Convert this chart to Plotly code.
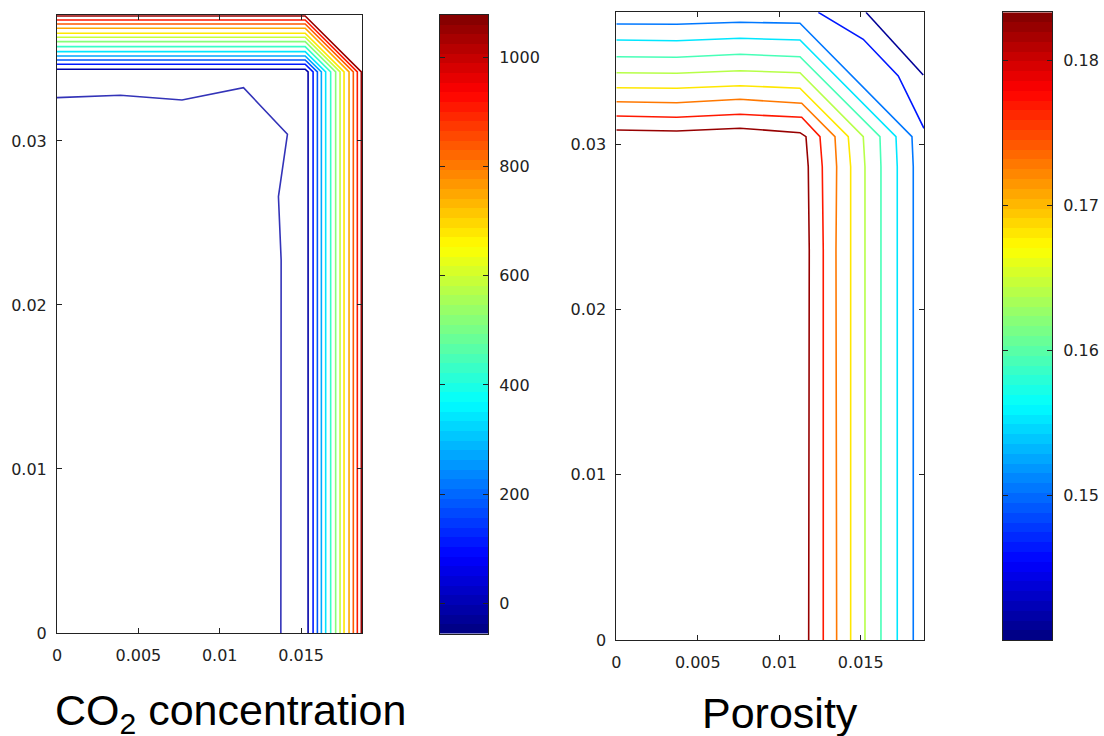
import plotly.graph_objects as go

# ---------------- data ----------------
# shared tick marks of the two domain plots
x_ticks = [0, 0.005, 0.01, 0.015]
x_ticklabels = ["0", "0.005", "0.01", "0.015"]
y_ticks = [0, 0.01, 0.02, 0.03]
y_ticklabels = ["0", "0.01", "0.02", "0.03"]

# CO2 concentration plot
co2_xmax = 0.01876
co2_ymax = 0.03768
co2_cmin = -55
co2_cmax = 1077
co2_ticks = [0, 200, 400, 600, 800, 1000]
co2_levels = [-10, 106, 187, 268, 349, 430, 511, 592, 673, 754, 835, 916, 1050]
# height of the horizontal (top) part of each contour
co2_front_y = [0.034372, 0.034677, 0.034939, 0.035183, 0.035445, 0.035750, 0.036055,
               0.036323, 0.036567, 0.036872, 0.037134, 0.037378, 0.037622]
# position of the vertical (right) part of each contour
co2_front_x = [0.015429, 0.015736, 0.016000, 0.016245, 0.016509, 0.016816, 0.017123,
               0.017393, 0.017638, 0.017945, 0.018209, 0.018454, 0.018699]
co2_corner_x = 0.01525   # where the top contours start to bend
co2_corner_y = 0.03421   # where the right contours become vertical
co2_inner_level = -10
co2_inner_x = [0, 0.003896, 0.007681, 0.011460, 0.014160, 0.013607, 0.013773, 0.013755]
co2_inner_y = [0.032640, 0.032787, 0.032500, 0.033250, 0.030409, 0.026604, 0.022744, 0.0]

# Porosity plot
por_xmax = 0.01888
por_ymax = 0.03799
por_cmin = 0.1400
por_cmax = 0.1833
por_ticks = [0.15, 0.16, 0.17, 0.18]
por_levels = [0.1412, 0.1465, 0.1508, 0.1552, 0.1595, 0.1638, 0.1682, 0.1725, 0.1768, 0.1822]
por_lines_x = [
    [0.015319, 0.018834],
    [0.012393, 0.015153, 0.017301, 0.018877],
    [0, 0.003706, 0.007589, 0.011270, 0.018141, 0.018221, 0.018221, 0.018221],
    [0, 0.003706, 0.007589, 0.011270, 0.017160, 0.017239, 0.017239, 0.017239],
    [0, 0.003706, 0.007589, 0.011270, 0.016178, 0.016239, 0.016239, 0.016239],
    [0, 0.003706, 0.007589, 0.011270, 0.015153, 0.015258, 0.015258, 0.015258],
    [0, 0.003706, 0.007589, 0.011270, 0.014233, 0.014380, 0.014380, 0.014380],
    [0, 0.003706, 0.007589, 0.011374, 0.013417, 0.013521, 0.013479, 0.013521],
    [0, 0.003706, 0.007589, 0.011374, 0.012497, 0.012638, 0.012699, 0.012699],
    [0, 0.003706, 0.007589, 0.011270, 0.011638, 0.011779, 0.011840, 0.011804],
]
por_lines_y = [
    [0.037989, 0.034196],
    [0.037989, 0.036356, 0.034135, 0.030969],
    [0.037281, 0.037263, 0.037384, 0.037324, 0.030461, 0.028645, 0.023604, 0.0],
    [0.036313, 0.036271, 0.036416, 0.036313, 0.030461, 0.028645, 0.023604, 0.0],
    [0.035302, 0.035266, 0.035448, 0.035302, 0.030461, 0.028645, 0.023604, 0.0],
    [0.034334, 0.034298, 0.034455, 0.034334, 0.030461, 0.028645, 0.023604, 0.0],
    [0.033426, 0.033390, 0.033547, 0.033390, 0.030461, 0.028645, 0.023604, 0.0],
    [0.032579, 0.032518, 0.032724, 0.032482, 0.030461, 0.028645, 0.023604, 0.0],
    [0.031713, 0.031635, 0.031816, 0.031635, 0.030461, 0.028645, 0.023604, 0.0],
    [0.030866, 0.030806, 0.030969, 0.030703, 0.030461, 0.028645, 0.023604, 0.0],
]

co2_title = "CO<sub>2</sub> concentration"
por_title = "Porosity"

# ---------------- colour map (MATLAB-style jet, 64 bands) ----------------
NBANDS = 64


def jet_rgb(t):
    def c(v):
        return max(0.0, min(1.0, v))
    r = c(1.5 - abs(4 * t - 3))
    g = c(1.5 - abs(4 * t - 2))
    b = c(1.5 - abs(4 * t - 1))
    return "rgb(%d,%d,%d)" % (round(r * 255), round(g * 255), round(b * 255))


def band_color(v, vmin, vmax):
    t = (v - vmin) / (vmax - vmin)
    i = min(NBANDS - 1, max(0, int(t * NBANDS)))
    return jet_rgb((i + 0.5) / NBANDS)


stepped_scale = []
for i in range(NBANDS):
    col = jet_rgb((i + 0.5) / NBANDS)
    stepped_scale.append([i / NBANDS, col])
    stepped_scale.append([(i + 1) / NBANDS, col])

# ---------------- figure ----------------
W, H = 1104, 736
fig = go.Figure()

LW = 1.6

# CO2 contours
for lev, fy, fx in zip(co2_levels, co2_front_y, co2_front_x):
    fig.add_trace(go.Scatter(
        x=[0, co2_corner_x, fx, fx], y=[fy, fy, co2_corner_y, 0],
        mode="lines", line=dict(color=band_color(lev, co2_cmin, co2_cmax), width=LW),
        hoverinfo="skip", showlegend=False, xaxis="x", yaxis="y"))
fig.add_trace(go.Scatter(
    x=co2_inner_x, y=co2_inner_y, mode="lines",
    line=dict(color=band_color(co2_inner_level, co2_cmin, co2_cmax), width=LW),
    opacity=0.8, hoverinfo="skip", showlegend=False, xaxis="x", yaxis="y"))

# Porosity contours
for lev, lx, ly in zip(por_levels, por_lines_x, por_lines_y):
    fig.add_trace(go.Scatter(
        x=lx, y=ly, mode="lines",
        line=dict(color=band_color(lev, por_cmin, por_cmax), width=LW),
        hoverinfo="skip", showlegend=False, xaxis="x2", yaxis="y2"))


# colour bars as narrow heatmaps
def bar_trace(vmin, vmax, xa, ya):
    step = (vmax - vmin) / NBANDS
    centers = [vmin + (i + 0.5) * step for i in range(NBANDS)]
    return go.Heatmap(x=[0], y=centers, z=[[c] for c in centers], zmin=vmin, zmax=vmax,
                      colorscale=stepped_scale, showscale=False, hoverinfo="skip",
                      xaxis=xa, yaxis=ya)


fig.add_trace(bar_trace(co2_cmin, co2_cmax, "x3", "y3"))
fig.add_trace(bar_trace(por_cmin, por_cmax, "x4", "y4"))


def px_x(p):
    return p / W


def px_y(p):
    return 1 - p / H


tick_font = dict(family="DejaVu Sans", size=16, color="#222")
frame = dict(showline=True, linecolor="#222", linewidth=1, mirror=True,
             showgrid=False, zeroline=False, automargin=False)
axis_common = dict(frame, ticks="inside", ticklen=5, tickcolor="#222",
                   tickfont=tick_font)
axis_common["mirror"] = "ticks"

fig.update_layout(
    width=W, height=H,
    margin=dict(l=0, r=0, t=0, b=0, autoexpand=False),
    paper_bgcolor="white", plot_bgcolor="white",
    xaxis=dict(axis_common, domain=[px_x(57), px_x(362.3)], range=[0, co2_xmax],
               tickvals=x_ticks, ticktext=x_ticklabels, anchor="y", ticklabelstandoff=8),
    yaxis=dict(axis_common, domain=[px_y(633), px_y(15)], range=[0, co2_ymax],
               tickvals=y_ticks, ticktext=y_ticklabels, anchor="x", ticklabelstandoff=6),
    xaxis2=dict(axis_common, domain=[px_x(616.3), px_x(924)], range=[0, por_xmax],
                tickvals=x_ticks, ticktext=x_ticklabels, anchor="y2", ticklabelstandoff=8),
    yaxis2=dict(axis_common, domain=[px_y(640), px_y(12.3)], range=[0, por_ymax],
                tickvals=y_ticks, ticktext=y_ticklabels, anchor="x2", ticklabelstandoff=6),
    xaxis3=dict(frame, domain=[px_x(440), px_x(488)], range=[-0.5, 0.5],
                showticklabels=False, ticks="", anchor="y3"),
    yaxis3=dict(axis_common, domain=[px_y(633.6), px_y(15)], range=[co2_cmin, co2_cmax],
                tickvals=co2_ticks, side="right", anchor="x3", ticklabelstandoff=7),
    xaxis4=dict(frame, domain=[px_x(1003), px_x(1052)], range=[-0.5, 0.5],
                showticklabels=False, ticks="", anchor="y4"),
    yaxis4=dict(axis_common, domain=[px_y(640), px_y(12.3)], range=[por_cmin, por_cmax],
                tickvals=por_ticks, ticktext=["%.2f" % t for t in por_ticks],
                side="right", anchor="x4", ticklabelstandoff=7),
    annotations=[
        dict(text=co2_title, xref="paper", yref="paper", x=px_x(53), y=px_y(713),
             xanchor="left", yanchor="middle", showarrow=False,
             font=dict(family="Liberation Sans", size=43, color="#000")),
        dict(text=por_title, xref="paper", yref="paper", x=px_x(780), y=px_y(713),
             xanchor="center", yanchor="middle", showarrow=False,
             font=dict(family="Liberation Sans", size=43, color="#000")),
    ],
)

fig.write_html("out.html", config={"displayModeBar": False},
               post_script="document.body.style.margin='0';")
